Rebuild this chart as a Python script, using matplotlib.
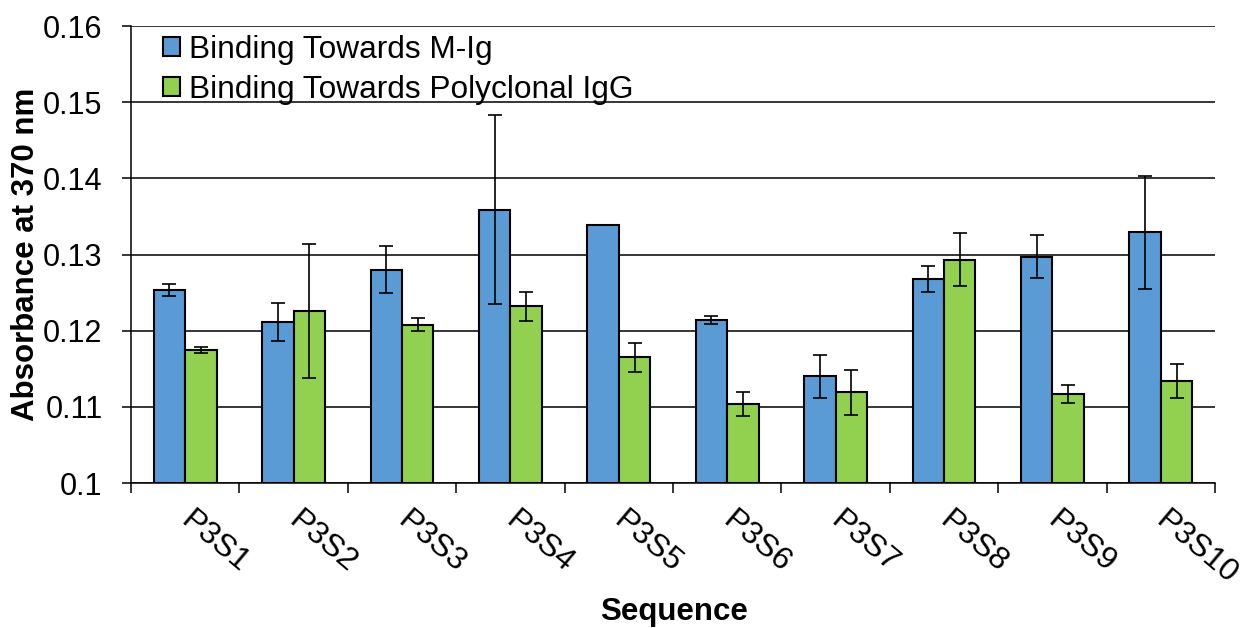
import numpy as np
import matplotlib
matplotlib.use("Agg")
import matplotlib.pyplot as plt
from matplotlib.patches import Patch

plt.rcParams['font.family'] = ['Liberation Sans', 'DejaVu Sans']

categories = ["P3S1", "P3S2", "P3S3", "P3S4", "P3S5",
              "P3S6", "P3S7", "P3S8", "P3S9", "P3S10"]
mig_values = [0.1253, 0.1211, 0.1280, 0.1359, 0.1339,
              0.1214, 0.1140, 0.1268, 0.1297, 0.1329]
mig_errors = [0.0008, 0.0025, 0.0031, 0.0124, 0.0000,
              0.0005, 0.0028, 0.0017, 0.0028, 0.0074]
igg_values = [0.1175, 0.1226, 0.1208, 0.1232, 0.1165,
              0.1104, 0.1119, 0.1293, 0.1117, 0.1134]
igg_errors = [0.0004, 0.0088, 0.0008, 0.0019, 0.0019,
              0.0016, 0.0030, 0.0035, 0.0012, 0.0022]
y_ticks = [0.10, 0.11, 0.12, 0.13, 0.14, 0.15, 0.16]
y_tick_labels = ["0.1", "0.11", "0.12", "0.13", "0.14", "0.15", "0.16"]

blue = "#5B9BD5"
green = "#92D050"

W, H = 1247, 628
fig = plt.figure(figsize=(W / 100, H / 100), dpi=100)
ax = fig.add_axes([131 / W, 1 - 483 / H, (1215 - 131) / W, (483 - 26) / H])

x = np.arange(len(categories))
w = 0.29
bottom = 0.10

err_kw = dict(ecolor="black", elinewidth=1.2, capsize=4.7, capthick=1.2)
ax.bar(x - w / 2, np.array(mig_values) - bottom, w, bottom=bottom, color=blue,
       edgecolor="black", linewidth=1.5, zorder=3,
       yerr=mig_errors, error_kw=err_kw)
ax.bar(x + w / 2, np.array(igg_values) - bottom, w, bottom=bottom, color=green,
       edgecolor="black", linewidth=1.5, zorder=3,
       yerr=igg_errors, error_kw=err_kw)

ax.set_xlim(-0.5, len(categories) - 0.5)
ax.set_ylim(0.10, 0.16)
ax.set_yticks(y_ticks)
ax.set_yticklabels(y_tick_labels, fontsize=22)
ax.yaxis.grid(True, color="black", linewidth=1.1, zorder=0)
ax.set_axisbelow(True)

# tick marks sit on the category boundaries; labels sit at the centres
ax.set_xticks(np.arange(-0.5, len(categories), 1.0))
ax.set_xticklabels([])
ax.tick_params(axis="x", direction="out", length=7, width=1.1, color="black")
ax.tick_params(axis="y", direction="out", length=6.5, width=1.1, color="black", pad=14)
for i, name in enumerate(categories):
    ax.text(i + 0.08, -0.05, name, transform=ax.get_xaxis_transform(),
            rotation=-40, rotation_mode="anchor", ha="left", va="top",
            fontsize=23)

for side in ("top", "right"):
    ax.spines[side].set_visible(False)
for side in ("left", "bottom"):
    ax.spines[side].set_linewidth(1.1)
    ax.spines[side].set_color("black")

fig.text(674 / W, 1 - 597 / H, "Sequence", ha="center", va="top",
         fontsize=22.5, fontweight="bold")
fig.text(26 / W, 1 - 254 / H, "Absorbance at 370 nm", ha="center", va="center",
         rotation=90, fontsize=22.5, fontweight="bold")

handles = [Patch(facecolor=blue, edgecolor="black", linewidth=1.5),
           Patch(facecolor=green, edgecolor="black", linewidth=1.5)]
ax.legend(handles, ["Binding Towards M-Ig", "Binding Towards Polyclonal IgG"],
          loc="upper left", bbox_to_anchor=(32 / 1084, 1 - 9 / 457), frameon=False,
          fontsize=22.8, handlelength=0.55, handleheight=0.55, handletextpad=0.28,
          labelspacing=0.32, borderpad=0, borderaxespad=0)

fig.savefig("out.png", dpi=100)
